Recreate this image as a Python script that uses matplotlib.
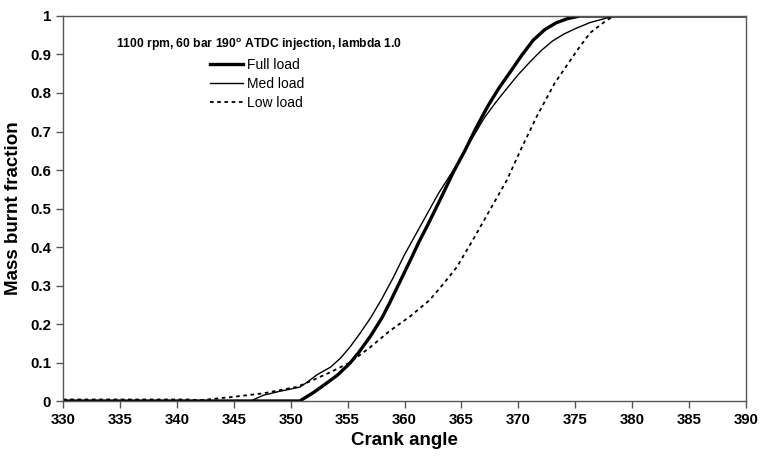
import numpy as np
import matplotlib
matplotlib.use("Agg")
import matplotlib.pyplot as plt

plt.rcParams['font.family'] = ['Liberation Sans', 'DejaVu Sans']
plt.rcParams['mathtext.fontset'] = 'custom'
plt.rcParams['mathtext.bf'] = 'Liberation Sans:bold'
plt.rcParams['mathtext.rm'] = 'Liberation Sans'

# full load
full_ca = [330, 350.8, 352, 353, 354.1, 355.2, 356, 357, 358, 358.7, 359.6, 360.5, 361.3, 362, 363,
           364.3, 365.3, 366.3, 367.3, 368.3, 369.3, 370.3, 371.3, 372.3, 373.3, 374.3, 375.4, 390]
full_mbf = [0, 0, 0.022, 0.043, 0.067, 0.098, 0.127, 0.168, 0.215, 0.255, 0.31, 0.365, 0.415, 0.455, 0.515,
            0.595, 0.65, 0.71, 0.765, 0.813, 0.855, 0.898, 0.937, 0.964, 0.982, 0.993, 1.0, 1.0]

# med load
med_ca = [330, 346.5, 346.7, 347.6, 349, 350.8, 351.5, 352.3, 353.5, 354.4, 355.2, 356, 357, 358,
          359, 360, 361.5, 363, 364.3, 365.5, 367, 368, 369, 370, 371, 372, 373, 374, 375, 376.3,
          377.8, 378.3, 390]
med_mbf = [0, 0, 0.003, 0.015, 0.025, 0.036, 0.05, 0.068, 0.088, 0.112, 0.14, 0.172, 0.215, 0.265,
           0.32, 0.38, 0.46, 0.54, 0.6, 0.66, 0.735, 0.775, 0.812, 0.848, 0.88, 0.91, 0.935, 0.953,
           0.967, 0.983, 0.995, 1.0, 1.0]

# low load
low_ca = [330, 341, 342, 344.7, 347.6, 350.6, 352, 353.5, 355.2, 357, 358.7, 360.5, 362.2,
          363.3, 364.6, 366, 367.5, 369, 370.2, 371.6, 373.2, 375.2, 376.3, 377.8, 378.5, 390]
low_mbf = [0.004, 0.004, 0.002, 0.01, 0.02, 0.037, 0.055, 0.075, 0.1, 0.14, 0.182, 0.22, 0.262,
           0.3, 0.348, 0.418, 0.496, 0.574, 0.652, 0.738, 0.826, 0.912, 0.956, 0.99, 1.0, 1.0]

xticks = np.arange(330, 391, 5)
yticks = [0, 0.1, 0.2, 0.3, 0.4, 0.5, 0.6, 0.7, 0.8, 0.9, 1]
ytick_labels = ['0', '0.1', '0.2', '0.3', '0.4', '0.5', '0.6', '0.7', '0.8', '0.9', '1']

fig = plt.figure(figsize=(7.63, 4.57), dpi=100)
ax = fig.add_axes([0.0826, 0.1225, 0.8951, 0.8425])

ax.plot(full_ca, full_mbf, color='black', lw=2.4, label='Full load')
ax.plot(med_ca, med_mbf, color='black', lw=1.0, label='Med load')
ax.plot(low_ca, low_mbf, color='black', lw=1.3, linestyle=(0, (2, 2)), label='Low load')

ax.set_xlim(330, 390)
ax.set_ylim(0, 1)
ax.set_xticks(xticks)
ax.set_xticklabels([str(t) for t in xticks], fontweight='bold', fontsize=10.8)
ax.set_yticks(yticks)
ax.set_yticklabels(ytick_labels, fontweight='bold', fontsize=10.8)
ax.tick_params(direction='out', length=5, color='#555555', width=1)
for s in ax.spines.values():
    s.set_color('#555555')
    s.set_linewidth(1)

ax.set_xlabel('Crank angle', fontsize=13.5, fontweight='bold', labelpad=4)
ax.set_ylabel('Mass burnt fraction', fontsize=13.5, fontweight='bold', labelpad=6)

ax.text(0.078, 0.925, r'1100 rpm, 60 bar 190$^{\mathbf{o}}$ ATDC injection, lambda 1.0',
        transform=ax.transAxes, fontsize=8.7, fontweight='bold', va='center')

ax.legend(loc='upper left', bbox_to_anchor=(0.207, 0.905), frameon=False, fontsize=10,
          handlelength=2.4, handletextpad=0.25, labelspacing=0.35, borderaxespad=0)

fig.savefig('out.png', dpi=100)
